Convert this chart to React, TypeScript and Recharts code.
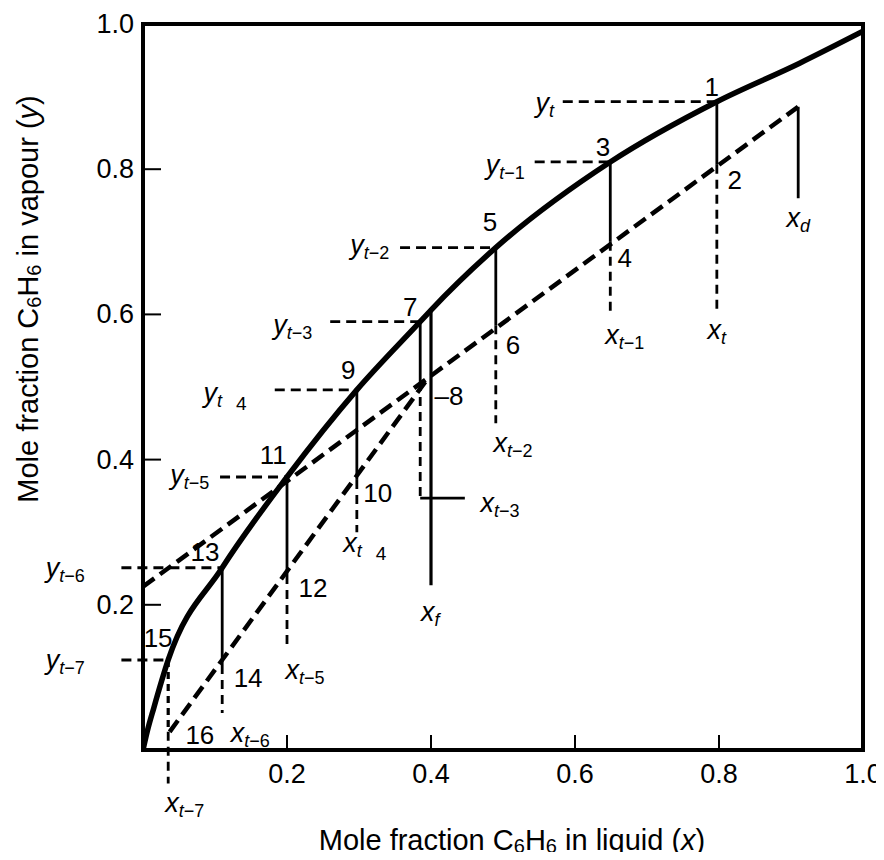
import React from 'react';
import { LineChart, Line, XAxis, YAxis, ReferenceLine, ReferenceArea, ReferenceDot, Label } from 'recharts';

const FONT = '"Liberation Sans", Arial, Helvetica, sans-serif';

// equilibrium curve, y (vapour) against x (liquid)
const eqX = [0, 0.006, 0.015, 0.035, 0.11, 0.2, 0.297, 0.385, 0.4, 0.49, 0.649, 0.797, 0.912, 1.0];
const eqY = [0, 0.026, 0.058, 0.124, 0.251, 0.376, 0.496, 0.59, 0.606, 0.692, 0.81, 0.893, 0.946, 0.99];

// operating lines (upper section and lower section)
const upperOpX = [0, 0.91];
const upperOpY = [0.225, 0.886];
const lowerOpX = [0.037, 0.392];
const lowerOpY = [0.025, 0.507];

// stages from the top: x of the step, y on curve, y on operating line, end of dashed drop
const stageX = [0.797, 0.649, 0.49, 0.385, 0.297, 0.2, 0.11, 0.035];
const stageYeq = [0.893, 0.81, 0.692, 0.59, 0.496, 0.376, 0.251, 0.124];
const stageYop = [0.806, 0.7, 0.585, 0.507, 0.372, 0.241, 0.117, 0.025];
const stageYend = [0.606, 0.6, 0.45, 0.347, 0.3, 0.138, 0.051, -0.046];
const leaderFromX = [0.583, 0.544, 0.357, 0.26, 0.183, 0.107, -0.03, -0.03];

const feedX = 0.4;
const feedY = [0.606, 0.227];
const feedStepEndX = 0.447;
const distX = 0.91;
const distY = [0.886, 0.76];

const xTicks = [0.2, 0.4, 0.6, 0.8, 1.0];
const yTicks = [0.2, 0.4, 0.6, 0.8, 1.0];

// point numbers
const numText = ['1', '2', '3', '4', '5', '6', '7', '\u20138', '9', '10', '11', '12', '13', '14', '15', '16'];
const numX = [0.79, 0.822, 0.639, 0.669, 0.482, 0.514, 0.371, 0.425, 0.285, 0.326, 0.181, 0.236, 0.086, 0.146, 0.021, 0.079];
const numY = [0.913, 0.785, 0.831, 0.678, 0.727, 0.558, 0.61, 0.488, 0.523, 0.354, 0.406, 0.223, 0.273, 0.099, 0.154, 0.021];

// composition labels: letter, subscript, trailing part
const varMain = ['y', 'y', 'y', 'y', 'y', 'y', 'y', 'y', 'x', 'x', 'x', 'x', 'x', 'x', 'x', 'x', 'x', 'x'];
const varSub = ['t', 't', 't', 't', 't', 't', 't', 't', 'd', 't', 't', 't', 't', 'f', 't', 't', 't', 't'];
const varTail = ['', '\u22121', '\u22122', '\u22123', '', '\u22125', '\u22126', '\u22127', '', '', '\u22121', '\u22122', '\u22123', '', '', '\u22125', '\u22126', '\u22127'];
const varGap = ['', '', '', '', '4', '', '', '', '', '', '', '', '', '', '4', '', '', ''];
const varX = [0.558, 0.503, 0.315, 0.208, 0.114, 0.065, -0.108, -0.108, 0.91, 0.797, 0.669, 0.514, 0.496, 0.399, 0.308, 0.225, 0.149, 0.058];
const varY = [0.891, 0.806, 0.696, 0.585, 0.492, 0.379, 0.251, 0.124, 0.733, 0.579, 0.572, 0.423, 0.34, 0.19, 0.285, 0.11, 0.023, -0.073];

const toRows = (xs: number[], ys: number[]) => xs.map((x, i) => ({ x, y: ys[i] }));

const XTick = (props: any) => {
  const { x, y, payload } = props;
  return (
    <g>
      <line x1={x} y1={y} x2={x} y2={y - 15} stroke="#000" strokeWidth={2} />
      <text x={x} y={y + 24} textAnchor="middle" dominantBaseline="central" fontSize={27} fontFamily={FONT} fill="#000">
        {Number(payload.value).toFixed(1)}
      </text>
    </g>
  );
};

const YTick = (props: any) => {
  const { x, y, payload } = props;
  return (
    <g>
      <line x1={x} y1={y} x2={x + 18} y2={y} stroke="#000" strokeWidth={2} />
      <text x={x - 9} y={y} textAnchor="end" dominantBaseline="central" fontSize={27} fontFamily={FONT} fill="#000">
        {Number(payload.value).toFixed(1)}
      </text>
    </g>
  );
};

const XTitle = (props: any) => {
  const vb = props.viewBox || { x: 135, y: 742, width: 720, height: 30 };
  return (
    <text x={vb.x + vb.width / 2 + 9} y={vb.y + 90} textAnchor="middle" dominantBaseline="central" fontSize={29} fontFamily={FONT} fill="#000">
      Mole fraction C<tspan fontSize={20} dy={6}>6</tspan>
      <tspan dy={-6}>H</tspan>
      <tspan fontSize={20} dy={6}>6</tspan>
      <tspan dy={-6}> in liquid (</tspan>
      <tspan fontStyle="italic">x</tspan>)
    </text>
  );
};

const YTitle = (props: any) => {
  const vb = props.viewBox || { x: 75, y: 16, width: 60, height: 726 };
  const cx = vb.x - 55;
  const cy = vb.y + 275;
  return (
    <text x={cx} y={cy} transform={`rotate(-90 ${cx} ${cy})`} textAnchor="middle" dominantBaseline="central" fontSize={29} fontFamily={FONT} fill="#000">
      Mole fraction C<tspan fontSize={20} dy={6}>6</tspan>
      <tspan dy={-6}>H</tspan>
      <tspan fontSize={20} dy={6}>6</tspan>
      <tspan dy={-6}> in vapour (</tspan>
      <tspan fontStyle="italic">y</tspan>)
    </text>
  );
};

const seg = (x1: number, y1: number, x2: number, y2: number, key: string, width: number, dash?: string) => (
  <ReferenceLine
    key={key}
    segment={[{ x: x1, y: y1 }, { x: x2, y: y2 }]}
    stroke="#000"
    strokeWidth={width}
    strokeDasharray={dash}
    ifOverflow="visible"
  />
);

export default function App() {
  const steps: React.ReactNode[] = [];
  stageX.forEach((sx, i) => {
    steps.push(seg(leaderFromX[i], stageYeq[i], sx, stageYeq[i], `h${i}`, 2.8, '10 6'));
    const last = i === stageX.length - 1;
    steps.push(seg(sx, stageYeq[i], sx, stageYop[i], `v${i}`, last ? 3.2 : 2.8, last ? '7 5' : undefined));
    steps.push(seg(sx, stageYop[i], sx, stageYend[i], `d${i}`, 2.8, '9 6'));
  });

  return (
    <div style={{ width: 876, height: 852, marginBottom: -8, marginRight: -8, background: '#fff' }}>
      <LineChart width={876} height={852} margin={{ top: 16, right: 21, bottom: 80, left: 75 }}>
        <XAxis
          type="number"
          dataKey="x"
          domain={[0, 1]}
          ticks={xTicks}
          allowDataOverflow
          axisLine={false}
          tickLine={false}
          tickSize={0}
          tickMargin={0}
          height={30}
          tick={<XTick />}
        >
          <Label content={<XTitle />} />
        </XAxis>
        <YAxis
          type="number"
          dataKey="y"
          domain={[0, 1]}
          ticks={yTicks}
          allowDataOverflow
          axisLine={false}
          tickLine={false}
          tickSize={0}
          tickMargin={0}
          width={60}
          tick={<YTick />}
        >
          <Label content={<YTitle />} />
        </YAxis>
        <ReferenceArea x1={0} x2={1} y1={0} y2={1} fill="none" stroke="#000" strokeWidth={4} ifOverflow="visible" />
        {steps}
        {seg(stageX[3], stageYend[3], feedStepEndX, stageYend[3], 'feedstep', 2.8)}
        {seg(feedX, feedY[0], feedX, feedY[1], 'feed', 3.2)}
        {seg(distX, distY[0], distX, distY[1], 'dist', 2.8)}
        <Line data={toRows(upperOpX, upperOpY)} dataKey="y" type="linear" stroke="#000" strokeWidth={4.5} strokeDasharray="14 7" dot={false} isAnimationActive={false} />
        <Line data={toRows(lowerOpX, lowerOpY)} dataKey="y" type="linear" stroke="#000" strokeWidth={4.5} strokeDasharray="14 7" dot={false} isAnimationActive={false} />
        <Line data={toRows(eqX, eqY)} dataKey="y" type="monotone" stroke="#000" strokeWidth={5.5} dot={false} isAnimationActive={false} />
        {numText.map((t, i) => (
          <ReferenceDot
            key={`n${i}`}
            x={numX[i]}
            y={numY[i]}
            r={0}
            ifOverflow="visible"
            shape={(p: any) => (
              <text x={p.cx} y={p.cy} textAnchor="middle" dominantBaseline="central" fontSize={26} fontFamily={FONT} fill="#000">
                {t}
              </text>
            )}
          />
        ))}
        {varMain.map((m, i) => (
          <ReferenceDot
            key={`v${i}`}
            x={varX[i]}
            y={varY[i]}
            r={0}
            ifOverflow="visible"
            shape={(p: any) => (
              <text x={p.cx} y={p.cy} textAnchor="middle" dominantBaseline="central" fontFamily={FONT} fill="#000">
                <tspan fontSize={27} fontStyle="italic">{m}</tspan>
                <tspan fontSize={18} fontStyle="italic" dy={8}>{varSub[i]}</tspan>
                {varTail[i] && <tspan fontSize={18}>{varTail[i]}</tspan>}
                {varGap[i] && <tspan fontSize={19} dx={14} dy={2}>{varGap[i]}</tspan>}
              </text>
            )}
          />
        ))}
      </LineChart>
    </div>
  );
}
